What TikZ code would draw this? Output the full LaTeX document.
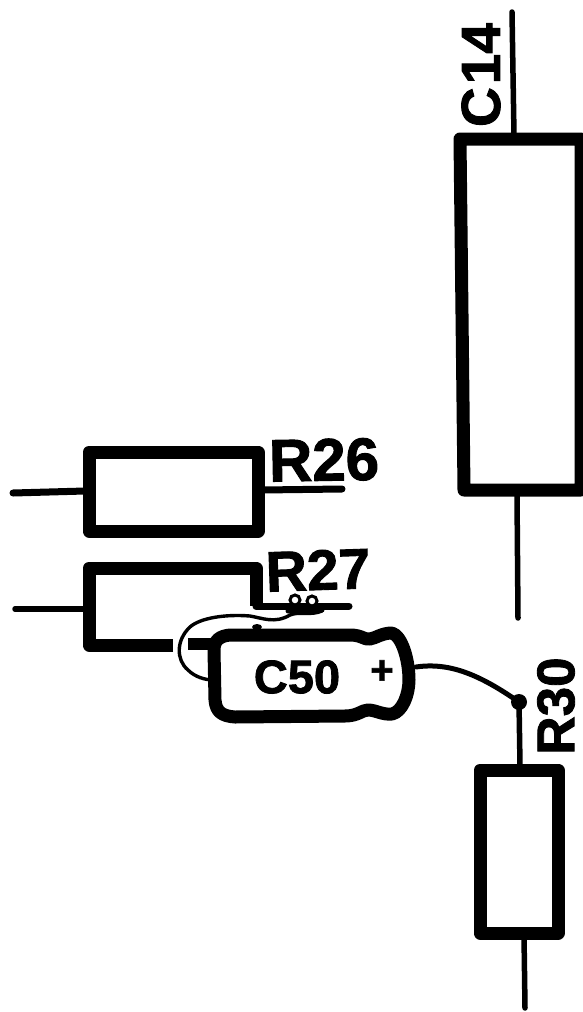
\documentclass[tikz,border=0pt]{standalone}
\usepackage{fontspec}
\setmainfont{Liberation Sans}[BoldFeatures={FakeBold=1.6}]
\tikzset{
 lbl/.style={font=\bfseries\fontsize{57}{57}\selectfont, inner sep=0pt, text=black},
 lead/.style={line width=5.5pt, black, line cap=round},
 wire/.style={line width=3.4pt, black, line cap=round},
 box/.style={line width=13pt, black, line join=round},
}
\begin{document}
\begin{tikzpicture}[x=1pt,y=-1pt]
\useasboundingbox (0,0) rectangle (583,1012);
% C14
\coordinate (c14t) at (512,12);
\coordinate (c14b) at (514,135);
\draw[lead] (c14t) -- (c14b);
\draw[box] (581,139) -- (460,139) -- (464,490) -- (581,490) -- cycle;
\coordinate (c14l) at (517,495);
\coordinate (c14e) at (518,618);
\draw[lead] (c14l) -- (c14e);
\node[lbl,rotate=90,font=\bfseries\fontsize{55}{55}\selectfont] (c14) at (481,75) {C\kern3pt 14};
% R26
\draw[box] (89,452) rectangle (258,531);
\coordinate (r26a) at (13,493);
\coordinate (r26b) at (85,491);
\draw[lead,line width=7pt] (r26a) -- (r26b);
\coordinate (r26c) at (262,490);
\coordinate (r26d) at (342,489);
\draw[lead,line width=7pt] (r26c) -- (r26d);
\node[lbl,rotate=1,font=\bfseries\fontsize{60}{60}\selectfont] (r26) at (324,460) {R26};
% R27
\draw[box,line cap=butt] (173,645) -- (89,645) -- (89,568) -- (256,568) -- (256,606);
\coordinate (r27a) at (15,609);
\coordinate (r27b) at (85,609);
\draw[lead] (r27a) -- (r27b);
\coordinate (r27c) at (256,606);
\coordinate (r27d) at (349,606);
\draw[lead,line width=7pt] (r27c) -- (r27d);
\node[lbl,rotate=2] (r27) at (318,570) {R27};
% stub and speck
\draw[line width=12pt] (188,644) -- (212,644);
\fill (257,627) ellipse (5pt and 3pt);
% jumper wire
\draw[wire] (322,611) .. controls (310,616) and (300,611) .. (290,615) .. controls (275,624) and (262,618) .. (250,616) .. controls (225,614) and (200,618) .. (190,627) .. controls (176,640) and (176,660) .. (188,670) .. controls (195,677) and (205,680) .. (214,680);
\draw[line width=3pt,fill=white] (295,600) circle (5pt);
\draw[line width=3pt,fill=white] (312,601) circle (5pt);
\draw[line width=5pt,line cap=round] (288,611) -- (322,610);
% C50
\draw[line width=13pt,line join=round,fill=white] (214,650) .. controls (214,640) and (220,636) .. (230,635) -- (350,635) .. controls (362,635) and (364,640) .. (370,639) .. controls (376,638) and (382,633) .. (392,633) .. controls (402,636) and (409,660) .. (409,680) .. controls (409,695) and (402,712) .. (392,714) .. controls (382,715) and (376,710) .. (368,710) .. controls (362,710) and (358,716) .. (345,716) -- (235,717) .. controls (222,716) and (216,712) .. (215,700) -- cycle;
\node[lbl,font=\bfseries\fontsize{47}{47}\selectfont] (c50) at (297,677) {C50};
\node[font=\bfseries\fontsize{40}{40}\selectfont,inner sep=0pt] (plus) at (382,672) {+};
% C50 to R30
\coordinate (cap) at (416,667);
\coordinate (dot) at (519,702);
\fill (dot) circle (8pt);
\draw[lead,line width=5pt] (cap) .. controls (450,662) and (480,675) .. (dot);
\coordinate (r30t) at (520,765);
\draw[lead] (dot) -- (r30t);
\node[lbl,font=\bfseries\fontsize{53}{53}\selectfont,rotate=90] (r30) at (556,706) {R30};
\draw[box] (480,770) rectangle (558,933);
\coordinate (r30a) at (524,935);
\coordinate (r30b) at (525,1008);
\draw[lead] (r30a) -- (r30b);
\end{tikzpicture}
\end{document}
